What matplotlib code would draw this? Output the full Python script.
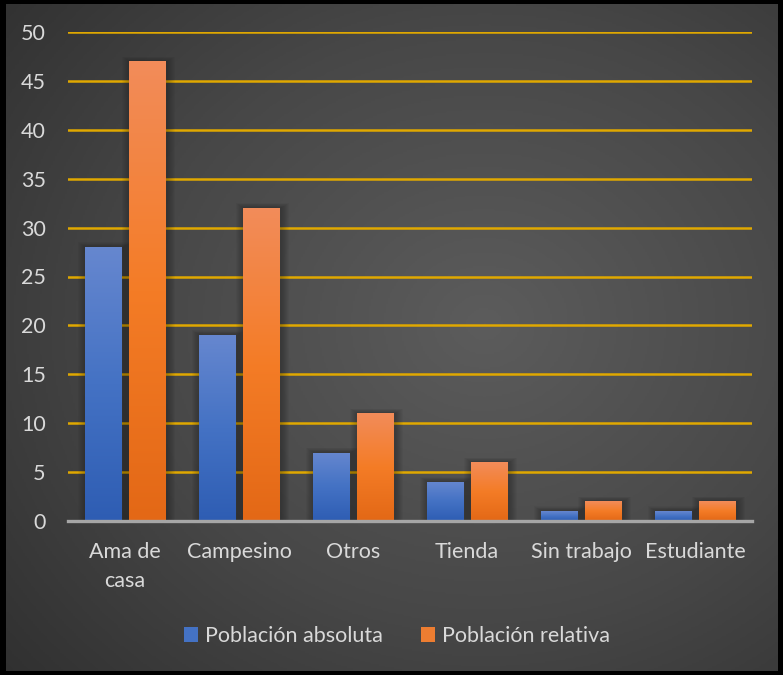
import numpy as np
import matplotlib
matplotlib.use("Agg")
import matplotlib.pyplot as plt
from matplotlib.patches import Rectangle
from matplotlib.colors import LinearSegmentedColormap

categories = ["Ama de\ncasa", "Campesino", "Otros", "Tienda", "Sin trabajo", "Estudiante"]
absoluta = [28, 19, 7, 4, 1, 1]
relativa = [47, 32, 11, 6, 2, 2]
series_names = ["Población absoluta", "Población relativa"]
yticks = [0, 5, 10, 15, 20, 25, 30, 35, 40, 45, 50]

W, H = 783, 675
plt.rcParams['font.family'] = ['Lato', 'DejaVu Sans']
text_color = "#d9d9d9"
fs = 15.5

fig = plt.figure(figsize=(W / 100, H / 100), dpi=100)
fig.patch.set_facecolor("black")

# Radial gradient background inside the black frame
bx0, by0, bx1, by1 = 6, 4, 778, 671
bg = fig.add_axes([bx0 / W, (H - by1) / H, (bx1 - bx0) / W, (by1 - by0) / H])
bg.set_axis_off()
gx, gy = np.meshgrid(np.linspace(0, 1, 400), np.linspace(0, 1, 400))
r = np.sqrt(((gx - 0.62) / 0.9) ** 2 + ((gy - 0.52) / 0.9) ** 2)
r = np.clip(r, 0, 1)
bg_cmap = LinearSegmentedColormap.from_list("bg", ["#5c5c5c", "#474747", "#2b2b2b"])
bg.imshow(r, cmap=bg_cmap, aspect="auto", extent=[0, 1, 0, 1], origin="lower", vmin=0, vmax=1)
bg.set_xlim(0, 1)
bg.set_ylim(0, 1)

# Plot area
px0, px1, py_top, py_bot = 68, 752, 32, 521
ax = fig.add_axes([px0 / W, (H - py_bot) / H, (px1 - px0) / W, (py_bot - py_top) / H])
ax.set_facecolor("none")
ax.set_xlim(-0.5, len(categories) - 0.5)
ax.set_ylim(0, 50)

for s in ["top", "right", "left"]:
    ax.spines[s].set_visible(False)
ax.spines["bottom"].set_color("#a6a6a6")
ax.spines["bottom"].set_linewidth(2.4)
ax.spines["bottom"].set_zorder(5)

ax.set_yticks(yticks)
ax.yaxis.grid(True, color="#e0a800", linewidth=1.8, zorder=0)
ax.set_axisbelow(True)
ax.tick_params(axis="y", length=0, pad=16, labelsize=fs, labelcolor=text_color)
ax.tick_params(axis="x", length=0, pad=15, labelsize=fs, labelcolor=text_color)
ax.set_xticks(range(len(categories)))
ax.set_xticklabels(categories, linespacing=1.6)

x = np.arange(len(categories))
bw = 0.316
off = 0.193

px_x = (len(categories)) / (px1 - px0)   # data units per pixel, x
px_y = 50 / (py_bot - py_top)            # data units per pixel, y

blue_cmap = LinearSegmentedColormap.from_list("b", ["#2e5db3", "#4472c4", "#6687cf"])
orange_cmap = LinearSegmentedColormap.from_list("o", ["#e36816", "#f47c26", "#f28c5a"])
grad = np.linspace(0, 1, 256).reshape(-1, 1)


def draw_bars(xs, vals, cmap, label, color):
    bars = ax.bar(xs, vals, width=bw, color=color, zorder=3, label=label, linewidth=0)
    for b in bars:
        bx, bwid, bh = b.get_x(), b.get_width(), b.get_height()
        # soft shadow spreading around the bar
        for k in range(1, 9):
            sh = Rectangle((bx - k * px_x + 1.5 * px_x, 0),
                           bwid + 2 * k * px_x, bh + k * px_y * 0.6,
                           facecolor="black", alpha=0.03, linewidth=0, zorder=2)
            ax.add_patch(sh)
        im = ax.imshow(grad, cmap=cmap, aspect="auto", origin="lower",
                       extent=[bx, bx + bwid, 0, bh], zorder=3.5)
        im.set_clip_path(b)
    return bars


draw_bars(x - off, absoluta, blue_cmap, series_names[0], "#4472c4")
draw_bars(x + off, relativa, orange_cmap, series_names[1], "#ed7d31")
ax.set_xlim(-0.5, len(categories) - 0.5)
ax.set_ylim(0, 50)

leg = fig.legend(loc="center", bbox_to_anchor=(397 / W, (H - 636) / H), ncol=2,
                 frameon=False, fontsize=fs, handlelength=0.65, handleheight=0.65,
                 handletextpad=0.3, columnspacing=1.8, labelcolor=text_color)

fig.savefig("out.png", dpi=100, facecolor=fig.get_facecolor())
